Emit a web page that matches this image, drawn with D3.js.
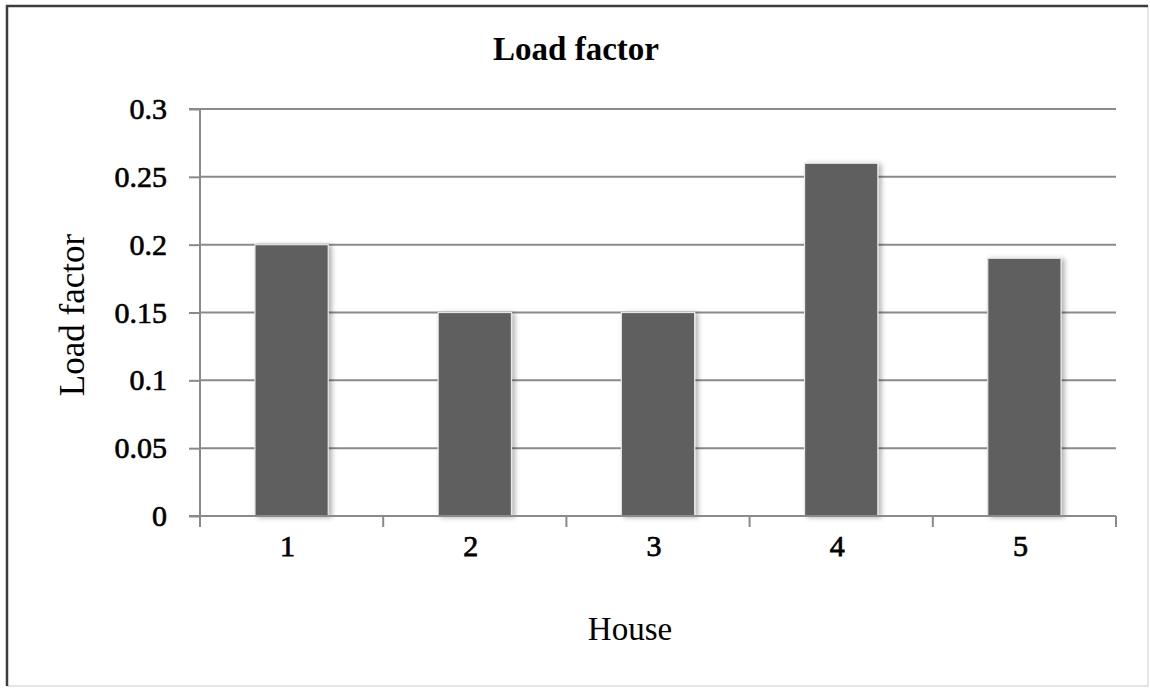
<!DOCTYPE html>
<html>
<head>
<meta charset="utf-8">
<script src="https://cdn.jsdelivr.net/npm/d3@7"></script>
<style>
  html, body { margin: 0; padding: 0; background: #fff; }
  svg { display: block; }
  text { font-family: "Liberation Serif", "Times New Roman", serif; fill: #000; }
</style>
</head>
<body>
<script>
// Load factor per house
const houses = ["1", "2", "3", "4", "5"];
const loadFactor = [0.20, 0.15, 0.15, 0.26, 0.19];
const yTicks = [0, 0.05, 0.1, 0.15, 0.2, 0.25, 0.3];
const yTickLabels = ["0", "0.05", "0.1", "0.15", "0.2", "0.25", "0.3"];

const W = 1150, H = 688;
const plot = { left: 200, right: 1116, top: 109, bottom: 516 };
const serif = "'Liberation Serif', 'Times New Roman', serif";

const svg = d3.select("body").append("svg")
  .attr("width", W).attr("height", H)
  .style("font-family", serif);

// soft shadow behind the bars
const defs = svg.append("defs");
const f = defs.append("filter").attr("id", "barShadow")
  .attr("x", "-20%").attr("y", "-10%").attr("width", "140%").attr("height", "120%");
f.append("feDropShadow")
  .attr("dx", 3).attr("dy", 1).attr("stdDeviation", 2.6)
  .attr("flood-color", "#000").attr("flood-opacity", 0.3);

// outer frame
svg.append("rect").attr("x", 7).attr("y", 6).attr("width", 1141).attr("height", 680)
  .attr("fill", "#fff").attr("stroke", "#d4d4d4").attr("stroke-width", 1.2);
svg.append("path").attr("d", "M7,686 V6 H1148")
  .attr("fill", "none").attr("stroke", "#3c3c3c").attr("stroke-width", 2.5);

const x = d3.scaleBand().domain(houses)
  .range([plot.left, plot.right]).paddingInner(0.6).paddingOuter(0.3);
const xOuter = d3.scaleBand().domain(houses).range([plot.left, plot.right]);
const y = d3.scaleLinear().domain([0, 0.3]).range([plot.bottom, plot.top]);

// horizontal gridlines
svg.append("g").selectAll("line").data(yTicks.slice(1)).join("line")
  .attr("x1", plot.left).attr("x2", plot.right)
  .attr("y1", d => y(d)).attr("y2", d => y(d))
  .attr("stroke", "#8a8a8a").attr("stroke-width", 2);

// bars
svg.append("g").selectAll("rect").data(loadFactor).join("rect")
  .attr("x", (d, i) => x(houses[i]))
  .attr("y", d => y(d))
  .attr("width", x.bandwidth())
  .attr("height", d => y(0) - y(d))
  .attr("fill", "#5f5f5f")
  .attr("stroke", "#e6e6e6").attr("stroke-width", 1.2)
  .attr("filter", "url(#barShadow)");

// y axis
const yAxis = d3.axisLeft(y).tickValues(yTicks)
  .tickFormat((d, i) => yTickLabels[i]).tickSize(11).tickPadding(22);
const gy = svg.append("g").attr("transform", `translate(${plot.left},0)`).call(yAxis)
  .attr("font-family", null).attr("font-size", null);
gy.select(".domain").attr("stroke", "#8a8a8a").attr("stroke-width", 2)
  .attr("d", `M${-11},${plot.top}H0V${plot.bottom}H-11`);
gy.selectAll(".tick line").attr("stroke", "#8a8a8a").attr("stroke-width", 2);
gy.selectAll(".tick text")
  .style("font-family", serif).style("font-size", "30px")
  .attr("fill", "#000").attr("stroke", "#000").attr("stroke-width", 0.65);

// x axis
const gx = svg.append("g").attr("transform", `translate(0,${plot.bottom})`);
gx.append("line").attr("x1", plot.left - 11).attr("x2", plot.right)
  .attr("y1", 0).attr("y2", 0).attr("stroke", "#8a8a8a").attr("stroke-width", 2);
const boundaries = houses.map(h => xOuter(h)).concat([plot.right]);
gx.selectAll("line.tk").data(boundaries).join("line").attr("class", "tk")
  .attr("x1", d => d).attr("x2", d => d).attr("y1", 0).attr("y2", 11)
  .attr("stroke", "#8a8a8a").attr("stroke-width", 2);
gx.selectAll("text").data(houses).join("text")
  .attr("x", d => xOuter(d) + xOuter.bandwidth() / 2 - 4)
  .attr("y", 40)
  .attr("text-anchor", "middle")
  .style("font-family", serif).style("font-size", "30px")
  .attr("stroke", "#000").attr("stroke-width", 0.75)
  .text(d => d);

// titles
svg.append("text").attr("x", 576).attr("y", 60).attr("text-anchor", "middle")
  .style("font-size", "33px").attr("font-weight", "bold").text("Load factor");
svg.append("text").attr("x", 630).attr("y", 640).attr("text-anchor", "middle")
  .style("font-size", "33px").text("House");
svg.append("text")
  .attr("transform", "translate(84,315) rotate(-90)")
  .attr("text-anchor", "middle")
  .style("font-size", "35px").text("Load factor");
</script>
</body>
</html>
